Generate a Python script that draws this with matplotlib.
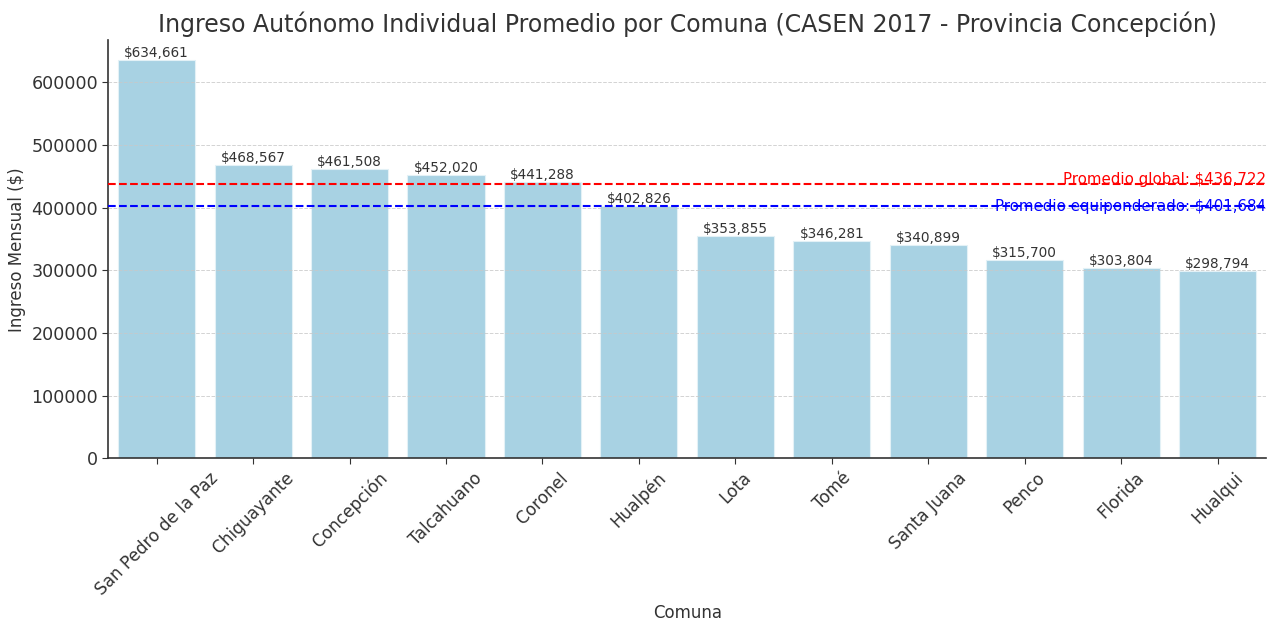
import matplotlib.pyplot as plt
import numpy as np

comunas = ["San Pedro de la Paz", "Chiguayante", "Concepción", "Talcahuano",
           "Coronel", "Hualpén", "Lota", "Tomé", "Santa Juana", "Penco",
           "Florida", "Hualqui"]
ingreso = [634661, 468567, 461508, 452020, 441288, 402826, 353855, 346281,
           340899, 315700, 303804, 298794]
promedio_global = 436722
promedio_equi = 401684

fig, ax = plt.subplots(figsize=(12.76, 6.22), dpi=100)

x = np.arange(len(comunas))
ax.bar(x, ingreso, width=0.8, color="#a8d2e3", edgecolor="#e3f1f6",
       linewidth=0.8, zorder=1)

for xi, v in zip(x, ingreso):
    ax.text(xi, v, f"${v:,}", ha="center", va="bottom", fontsize=9.8,
            color="#333333")

ax.axhline(promedio_global, color="red", ls="--", lw=1.5, zorder=3)
ax.axhline(promedio_equi, color="blue", ls="--", lw=1.5, zorder=3)
ax.text(1.0, promedio_global, f"Promedio global: ${promedio_global:,}",
        transform=ax.get_yaxis_transform(), ha="right", va="baseline",
        color="red", fontsize=10.8)
ax.text(1.0, promedio_equi, f"Promedio equiponderado: ${promedio_equi:,}",
        transform=ax.get_yaxis_transform(), ha="right", va="center",
        color="blue", fontsize=10.8)

ax.set_xticks(x)
ax.set_xticklabels(comunas, rotation=45, ha="center")
ax.tick_params(axis="both", colors="#333333", length=4)
ax.tick_params(axis="x", labelsize=12.2)
ax.tick_params(axis="y", labelsize=12.6)
ax.set_xlim(-0.5, len(comunas) - 0.5)

# faint dashed grid sits over the bars
ax.yaxis.grid(True, ls="--", color="#c8c8c8", lw=0.7, alpha=0.8)
ax.set_axisbelow(False)
for side in ("top", "right"):
    ax.spines[side].set_visible(False)
for side in ("left", "bottom"):
    ax.spines[side].set_color("#333333")
    ax.spines[side].set_linewidth(1.2)

ax.set_title("Ingreso Autónomo Individual Promedio por Comuna "
             "(CASEN 2017 - Provincia Concepción)", fontsize=17,
             color="#333333")
ax.set_xlabel("Comuna", fontsize=12, color="#333333")
ax.set_ylabel("Ingreso Mensual ($)", fontsize=12, color="#333333")

fig.subplots_adjust(left=0.085, right=0.992, top=0.935, bottom=0.263)
fig.savefig("out.png")
